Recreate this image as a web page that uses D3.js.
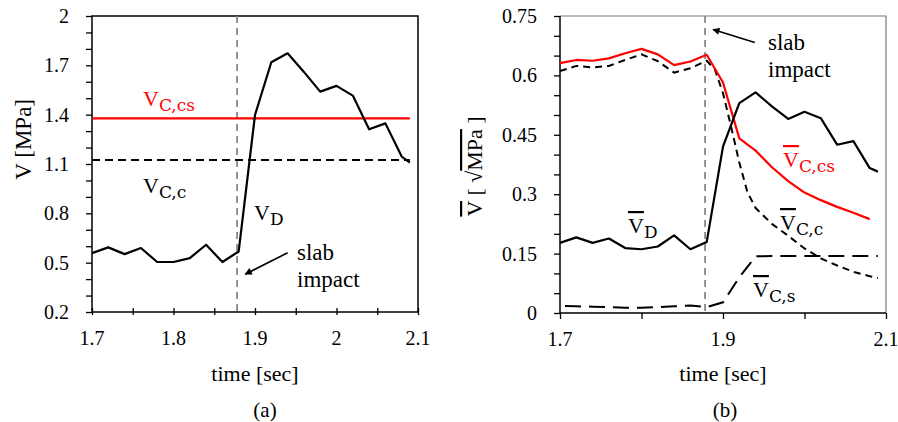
<!DOCTYPE html>
<html><head><meta charset="utf-8">
<script src="https://cdn.jsdelivr.net/npm/d3@7"></script>
<style>
body{margin:0;background:#fff;}
text{font-family:"Liberation Serif","Times New Roman",serif;}
</style></head>
<body><svg id="c" width="898" height="422"></svg>
<script>
// ---- data ----
const timeA = [1.70,1.72,1.74,1.76,1.78,1.80,1.82,1.84,1.86,1.88,1.90,1.92,1.94,1.96,1.98,2.00,2.02,2.04,2.06,2.08,2.09];
const vD_a  = [0.558,0.593,0.552,0.589,0.504,0.504,0.528,0.609,0.504,0.568,1.398,1.719,1.773,1.66,1.54,1.575,1.516,1.311,1.347,1.145,1.109];
const hTimes = [1.70,2.09];
const vCcs_a = [1.378,1.378];
const vCc_a  = [1.125,1.125];
const impactTime = 1.878;

const timeB = timeA;
const vD_b  = [0.177,0.191,0.177,0.188,0.164,0.161,0.168,0.196,0.161,0.179,0.42,0.53,0.557,0.522,0.49,0.508,0.492,0.425,0.434,0.366,0.357];
const timeCs = [1.70,1.72,1.74,1.76,1.78,1.80,1.82,1.84,1.86,1.88,1.90,1.92,1.94,1.96,1.98,2.00,2.02,2.04,2.06,2.08];
const vCcs_b = [0.631,0.639,0.637,0.643,0.656,0.667,0.653,0.626,0.635,0.652,0.582,0.441,0.41,0.368,0.333,0.304,0.285,0.268,0.253,0.237];
const timeCc = [1.70,1.72,1.74,1.76,1.78,1.80,1.82,1.84,1.86,1.88,1.89,1.90,1.91,1.92,1.93,1.94,1.96,1.98,2.00,2.02,2.04,2.06,2.08,2.09];
const vCc_b  = [0.611,0.624,0.62,0.624,0.639,0.653,0.636,0.607,0.618,0.637,0.615,0.555,0.47,0.38,0.305,0.265,0.225,0.195,0.163,0.138,0.12,0.104,0.093,0.088];
const vCs_b  = [0.018,0.017,0.016,0.015,0.013,0.013,0.015,0.017,0.019,0.015,0.027,0.09,0.143,0.144,0.144,0.144,0.144,0.144,0.144,0.144,0.144];

const yTicksA = [0.2,0.5,0.8,1.1,1.4,1.7,2];
const xTicksA = [1.7,1.8,1.9,2,2.1];
const yTicksB = [0,0.15,0.3,0.45,0.6,0.75];
const xTicksB = [1.7,1.9,2.1];

const svg = d3.select("#c");
svg.append("defs").append("marker").attr("id","ah").attr("viewBox","0 0 10 10")
  .attr("refX",9).attr("refY",5).attr("markerWidth",5).attr("markerHeight",4.5)
  .attr("orient","auto").attr("markerUnits","strokeWidth")
  .append("path").attr("d","M0,0L10,5L0,10Z").attr("fill","#000");

function fmt(v){ return String(+v.toFixed(2)); }
const TICK_FS = 20, TITLE_FS = 22, NOTE_FS = 23;

// ---------- Panel (a) ----------
const xa = d3.scaleLinear().domain([1.7,2.1]).range([92,418]);
const ya = d3.scaleLinear().domain([0.2,2]).range([312,16]);
const ga = svg.append("g");

ga.append("rect").attr("x",xa(1.7)).attr("y",ya(2)).attr("width",xa(2.1)-xa(1.7)).attr("height",ya(0.2)-ya(2))
  .attr("fill","none").attr("stroke","#000").attr("stroke-width",1.5);

const yaxA = ga.append("g").attr("transform",`translate(${xa(1.7)},0)`)
  .call(d3.axisLeft(ya).tickValues(d3.range(0.2,2.001,0.1)).tickSize(6).tickFormat(""));
yaxA.selectAll("path").remove();
yaxA.selectAll("line").attr("stroke","#000").attr("stroke-width",1.3);
ga.selectAll(".yla").data(yTicksA).enter().append("text")
  .attr("x",xa(1.7)-23).attr("y",d=>ya(d)).attr("dy","0.35em").attr("text-anchor","end")
  .attr("font-size",TICK_FS).text(fmt);

const xaxA = ga.append("g").attr("transform",`translate(0,${ya(0.2)})`)
  .call(d3.axisBottom(xa).tickValues(d3.range(1.7,2.1001,0.05)).tickSize(0).tickFormat(""));
xaxA.selectAll("path").remove();
xaxA.selectAll("line").attr("y1",-4).attr("y2",3).attr("stroke","#000").attr("stroke-width",1.3);
ga.selectAll(".xla").data(xTicksA).enter().append("text")
  .attr("x",d=>xa(d)).attr("y",345).attr("text-anchor","middle").attr("font-size",TICK_FS).text(fmt);

ga.append("line").attr("x1",xa(impactTime)).attr("x2",xa(impactTime)).attr("y1",ya(2)).attr("y2",ya(0.2))
  .attr("stroke","#888").attr("stroke-width",1.8).attr("stroke-dasharray","7,5");

const lineA = d3.line().x(d=>xa(d[0])).y(d=>ya(d[1]));
ga.append("path").datum(d3.zip(hTimes,vCcs_a)).attr("d",lineA).attr("fill","none").attr("stroke","#f00").attr("stroke-width",2.3);
ga.append("path").datum(d3.zip(hTimes,vCc_a)).attr("d",lineA).attr("fill","none").attr("stroke","#000").attr("stroke-width",2).attr("stroke-dasharray","8,5");
ga.append("path").datum(d3.zip(timeA,vD_a)).attr("d",lineA).attr("fill","none").attr("stroke","#000").attr("stroke-width",2.2).attr("stroke-linejoin","round");

function subLabel(g,x,y,main,sub,color,bar){
  const t = g.append("text").attr("x",x).attr("y",y).attr("fill",color).attr("font-size",22);
  const m = t.append("tspan").text(main);
  if(bar) m.attr("text-decoration","overline");
  t.append("tspan").attr("font-size",17).attr("dy",5).attr("font-family","'DejaVu Serif',serif").text(sub);
  return t;
}
subLabel(ga,143,106,"V","C,cs","#f00",false);
subLabel(ga,143,193,"V","C,c","#000",false);
subLabel(ga,254,220,"V","D","#000",false);

ga.append("text").attr("x",297).attr("y",260).attr("font-size",NOTE_FS).text("slab");
ga.append("text").attr("x",297).attr("y",287).attr("font-size",NOTE_FS).text("impact");
ga.append("line").attr("x1",xa(1.94)).attr("y1",ya(0.56)).attr("x2",xa(1.888)).attr("y2",ya(0.43))
  .attr("stroke","#000").attr("stroke-width",1.6).attr("marker-end","url(#ah)");

ga.append("text").attr("transform",`translate(31,${ya(1.25)}) rotate(-90)`).attr("text-anchor","middle")
  .attr("font-size",TITLE_FS+1).text("V [MPa]");
ga.append("text").attr("x",(xa(1.7)+xa(2.1))/2).attr("y",381).attr("text-anchor","middle").attr("font-size",TITLE_FS).text("time [sec]");
ga.append("text").attr("x",265).attr("y",417).attr("text-anchor","middle").attr("font-size",21).text("(a)");

// ---------- Panel (b) ----------
const xb = d3.scaleLinear().domain([1.7,2.1]).range([560,886]);
const yb = d3.scaleLinear().domain([0,0.75]).range([313,16]);
const gb = svg.append("g");

gb.append("path").attr("d",`M${xb(1.7)},${yb(0.75)}H${xb(2.1)}V${yb(0)}`).attr("fill","none").attr("stroke","#777").attr("stroke-width",1.2);
gb.append("path").attr("d",`M${xb(1.7)},${yb(0.75)}V${yb(0)}H${xb(2.1)}`).attr("fill","none").attr("stroke","#000").attr("stroke-width",1.5);

const yaxB = gb.append("g").attr("transform",`translate(${xb(1.7)},0)`)
  .call(d3.axisLeft(yb).tickValues(d3.range(0,0.7501,0.05)).tickSize(6).tickFormat(""));
yaxB.selectAll("path").remove();
yaxB.selectAll("line").attr("stroke","#000").attr("stroke-width",1.3);
gb.selectAll(".ylb").data(yTicksB).enter().append("text")
  .attr("x",xb(1.7)-23).attr("y",d=>yb(d)).attr("dy","0.35em").attr("text-anchor","end")
  .attr("font-size",TICK_FS).text(fmt);

const xaxB = gb.append("g").attr("transform",`translate(0,${yb(0)})`)
  .call(d3.axisBottom(xb).tickValues(d3.range(1.7,2.1001,0.1)).tickSize(6).tickFormat(""));
xaxB.selectAll("path").remove();
xaxB.selectAll("line").attr("stroke","#000").attr("stroke-width",1.3);
gb.selectAll(".xlb").data(xTicksB).enter().append("text")
  .attr("x",d=>xb(d)).attr("y",346).attr("text-anchor","middle").attr("font-size",TICK_FS).text(fmt);

gb.append("line").attr("x1",xb(impactTime)).attr("x2",xb(impactTime)).attr("y1",yb(0.75)).attr("y2",yb(0))
  .attr("stroke","#888").attr("stroke-width",1.8).attr("stroke-dasharray","7,5");

const lineB = d3.line().x(d=>xb(d[0])).y(d=>yb(d[1]));
gb.append("path").datum(d3.zip(timeB,vCs_b)).attr("d",lineB).attr("fill","none").attr("stroke","#000").attr("stroke-width",2).attr("stroke-dasharray","16,8").attr("stroke-dashoffset",-5);
gb.append("path").datum(d3.zip(timeCc,vCc_b)).attr("d",lineB).attr("fill","none").attr("stroke","#000").attr("stroke-width",2).attr("stroke-dasharray","7,5");
gb.append("path").datum(d3.zip(timeCs,vCcs_b)).attr("d",lineB).attr("fill","none").attr("stroke","#f00").attr("stroke-width",2.2).attr("stroke-linejoin","round");
gb.append("path").datum(d3.zip(timeB,vD_b)).attr("d",lineB).attr("fill","none").attr("stroke","#000").attr("stroke-width",2.2).attr("stroke-linejoin","round");

subLabel(gb,783,167,"V","C,cs","#f00",true);
subLabel(gb,780,230,"V","C,c","#000",true);
subLabel(gb,628,233,"V","D","#000",true);
subLabel(gb,753,297,"V","C,s","#000",true);

gb.append("text").attr("x",768).attr("y",50).attr("font-size",NOTE_FS).text("slab");
gb.append("text").attr("x",768).attr("y",77).attr("font-size",NOTE_FS).text("impact");
gb.append("line").attr("x1",xb(1.939)).attr("y1",yb(0.683)).attr("x2",xb(1.8877)).attr("y2",yb(0.716))
  .attr("stroke","#000").attr("stroke-width",1.6).attr("marker-end","url(#ah)");

const tl = gb.append("text").attr("transform",`translate(482,${yb(0.37)}) rotate(-90)`).attr("text-anchor","middle").attr("font-size",TITLE_FS);
tl.append("tspan").attr("text-decoration","overline").text("V");
tl.append("tspan").text("  [ √");
tl.append("tspan").attr("text-decoration","overline").text("MPa");
tl.append("tspan").text(" ]");

gb.append("text").attr("x",(xb(1.7)+xb(2.1))/2).attr("y",381).attr("text-anchor","middle").attr("font-size",TITLE_FS).text("time [sec]");
gb.append("text").attr("x",725).attr("y",417).attr("text-anchor","middle").attr("font-size",21).text("(b)");
</script></body></html>
